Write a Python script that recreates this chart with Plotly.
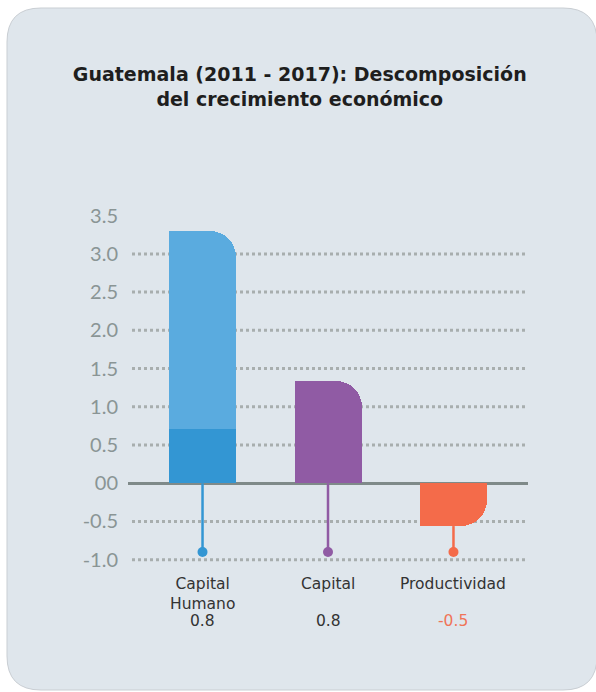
import plotly.graph_objects as go

# ---- data ----
categories = ["Capital Humano", "Capital", "Productividad"]
category_labels = ["Capital<br>Humano", "Capital", "Productividad"]
bar_values = [3.30, 1.34, -0.56]
human_capital_base = 0.71          # darker lower segment of first bar
value_labels = ["0.8", "0.8", "-0.5"]
stick_end = [-0.90, -0.90, -0.90]  # lollipop dot position
y_ticks = [-1.0, -0.5, 0.0, 0.5, 1.0, 1.5, 2.0, 2.5, 3.0, 3.5]
y_tick_text = ["-1.0", "-0.5", "00", "0.5", "1.0", "1.5", "2.0", "2.5", "3.0", "3.5"]
grid_values = [-1.0, -0.5, 0.5, 1.0, 1.5, 2.0, 2.5, 3.0]

# ---- style ----
W, H = 596, 692
ML, MR, MT, MB = 128, 68, 208, 117
card_color = "#DFE6EC"
bar_colors = ["#5AABDF", "#905BA4", "#F46B4A"]
dark_blue = "#3396D3"
stick_colors = ["#3396D3", "#905BA4", "#F46B4A"]
value_colors = ["#333333", "#333333", "#F07458"]
bar_w = 0.534
radius = 26
label_font = "DejaVu Sans, sans-serif"

xpos = list(range(len(categories)))

fig = go.Figure()

# lollipop sticks (below bars)
for i, c in enumerate(categories):
    top = min(0, bar_values[i])
    fig.add_trace(go.Scatter(
        x=[xpos[i], xpos[i]], y=[top, stick_end[i]], mode="lines",
        line=dict(color=stick_colors[i], width=2.5), hoverinfo="skip", showlegend=False))
    fig.add_trace(go.Scatter(
        x=[xpos[i]], y=[stick_end[i]], mode="markers",
        marker=dict(color=stick_colors[i], size=10), hoverinfo="skip", showlegend=False))

# bars: rounded full bar + square left half (only right corner rounded)
for i, c in enumerate(categories):
    fig.add_trace(go.Bar(
        x=[xpos[i]], y=[bar_values[i]], width=[bar_w], offset=-bar_w / 2,
        marker=dict(color=bar_colors[i], cornerradius=radius, line=dict(width=0)),
        hoverinfo="skip", showlegend=False))
    fig.add_trace(go.Bar(
        x=[xpos[i]], y=[bar_values[i]], width=[bar_w / 2], offset=-bar_w / 2,
        marker=dict(color=bar_colors[i], line=dict(width=0)),
        hoverinfo="skip", showlegend=False))

# dark lower segment of human capital
fig.add_trace(go.Bar(
    x=[xpos[0]], y=[human_capital_base], width=[bar_w], offset=-bar_w / 2,
    marker=dict(color=dark_blue, line=dict(width=0)), hoverinfo="skip", showlegend=False))

# ---- card background (rounded rectangle in paper coords) ----
pw, ph = W - ML - MR, H - MT - MB
def px2x(px):
    return (px - ML) / pw
def py2y(py):
    return (H - MB - py) / ph

x0, x1, y0, y1, r = 7, 597, 8, 690, 34
path = (
    f"M {px2x(x0 + r)},{py2y(y0)} "
    f"L {px2x(x1 - r)},{py2y(y0)} "
    f"Q {px2x(x1)},{py2y(y0)} {px2x(x1)},{py2y(y0 + r)} "
    f"L {px2x(x1)},{py2y(y1 - r)} "
    f"Q {px2x(x1)},{py2y(y1)} {px2x(x1 - r)},{py2y(y1)} "
    f"L {px2x(x0 + r)},{py2y(y1)} "
    f"Q {px2x(x0)},{py2y(y1)} {px2x(x0)},{py2y(y1 - r)} "
    f"L {px2x(x0)},{py2y(y0 + r)} "
    f"Q {px2x(x0)},{py2y(y0)} {px2x(x0 + r)},{py2y(y0)} Z"
)
shapes = [dict(type="path", path=path, xref="paper", yref="paper",
               fillcolor=card_color, line=dict(color="#C9CED3", width=1), layer="below")]

for g in grid_values:
    shapes.append(dict(type="line", xref="paper", yref="y", x0=px2x(132), x1=1.0,
                       y0=g, y1=g, line=dict(color="#A8AEAE", width=3, dash="dot"),
                       layer="below"))

# ---- annotations ----
annotations = []
for i, c in enumerate(categories):
    annotations.append(dict(
        x=xpos[i], y=0, xref="x", yref="paper", yanchor="top", yshift=2,
        text=category_labels[i], showarrow=False,
        font=dict(family=label_font, size=15.5, color="#333333")))
    annotations.append(dict(
        x=xpos[i], y=0, xref="x", yref="paper", yanchor="middle", yshift=-46,
        text=value_labels[i], showarrow=False,
        font=dict(family=label_font, size=15.5, color=value_colors[i])))

fig.update_layout(
    width=W, height=H,
    margin=dict(l=ML, r=MR, t=MT, b=MB),
    paper_bgcolor="white", plot_bgcolor="rgba(0,0,0,0)",
    barmode="overlay", bargap=0,
    title=dict(
        text="<b>Guatemala (2011 - 2017): Descomposición<br>del crecimiento económico</b>",
        x=0.503, xanchor="center", xref="container",
        y=1 - 81 / H, yanchor="top", yref="container",
        font=dict(family="DejaVu Sans, sans-serif", size=19, color="#1E1E1E")),
    xaxis=dict(range=[-0.594, 2.594], showgrid=False, zeroline=False,
               showticklabels=False, ticks="", fixedrange=True),
    yaxis=dict(range=[-1.2, 3.6], tickvals=y_ticks, ticktext=y_tick_text,
               showgrid=False, zeroline=True, zerolinecolor="#7F8A89", zerolinewidth=3,
               ticks="", ticklabelstandoff=9, fixedrange=True,
               tickfont=dict(family="Lato, sans-serif", size=20, color="#8A9595")),
    shapes=shapes, annotations=annotations,
    showlegend=False,
)

fig.write_html("out.html", config={"displayModeBar": False},
               post_script="document.body.style.margin='0px';")
